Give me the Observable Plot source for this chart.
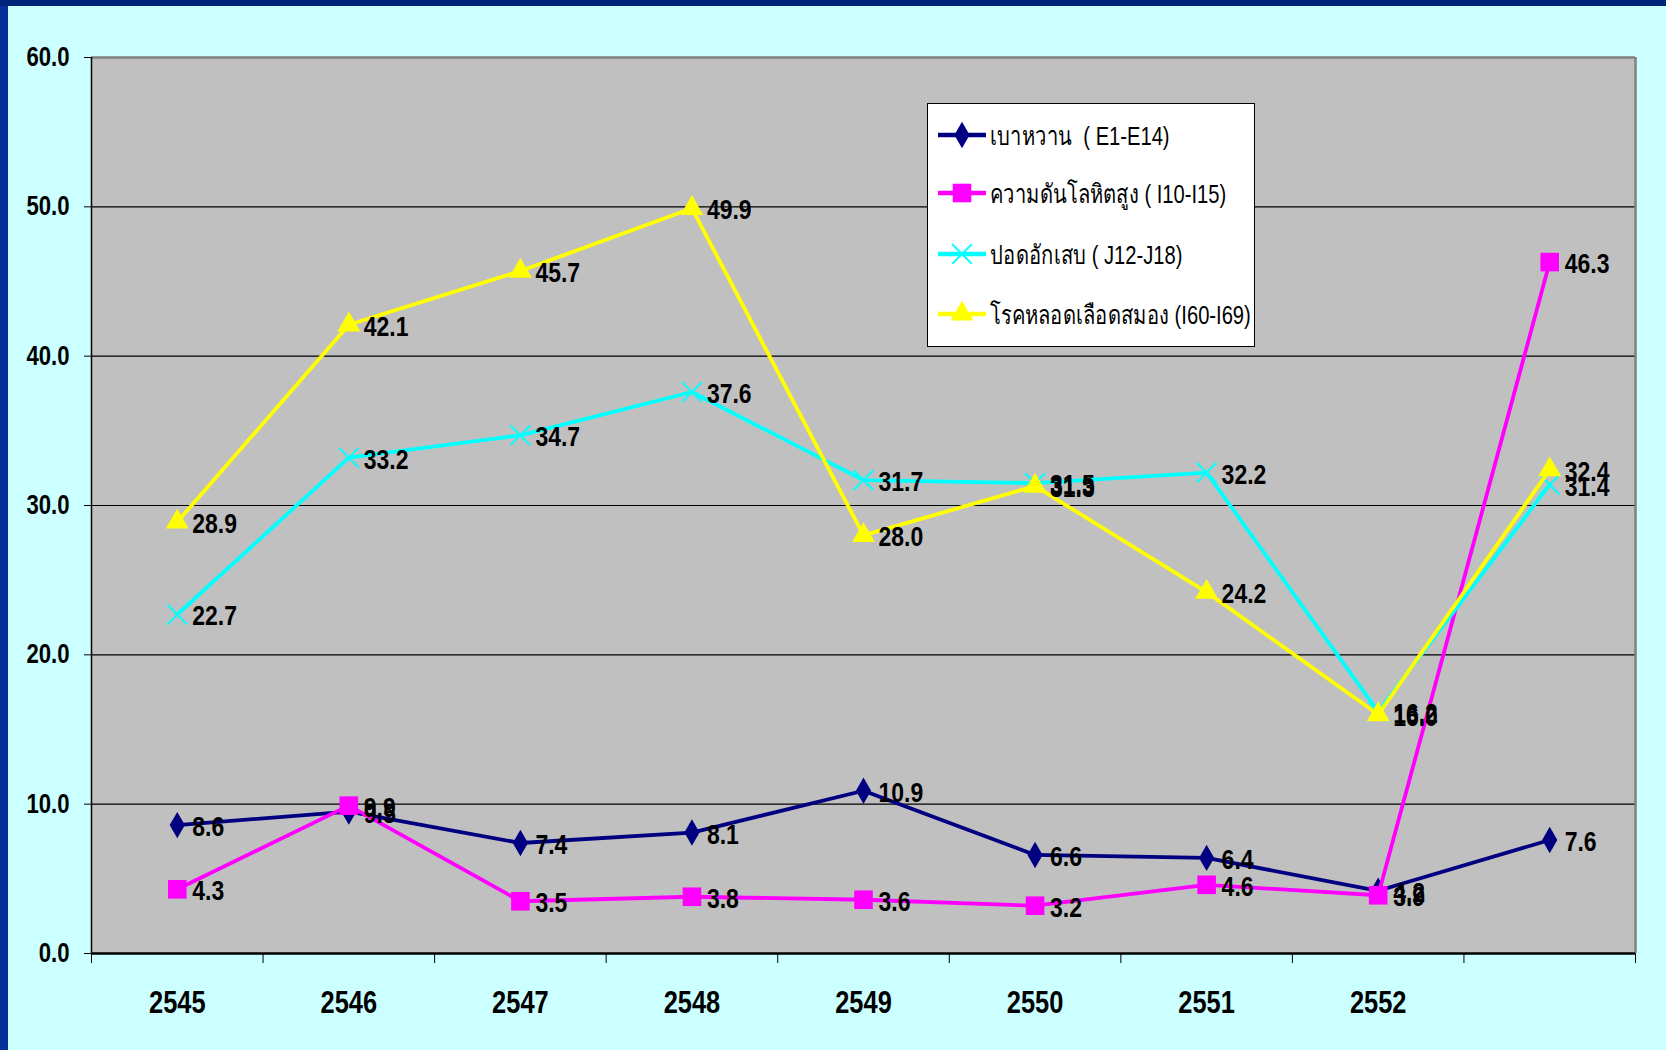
<!DOCTYPE html>
<html>
<head>
<meta charset="utf-8">
<script src="https://cdn.jsdelivr.net/npm/d3@7"></script>
<script src="https://cdn.jsdelivr.net/npm/@observablehq/plot@0.6"></script>
<style>
  html, body { margin: 0; padding: 0; background: #CCFFFF; width: 1666px; height: 1050px; overflow: hidden; }
  #chart { position: absolute; left: 0; top: 0; }
  .bar-left { position: absolute; left: 0; top: 0; width: 8px; height: 1050px; background: #06309A; z-index: 5; }
  .bar-top { position: absolute; left: 0; top: 0; width: 1666px; height: 6px; background: #00237A; z-index: 6; }
  #legend { position: absolute; left: 927px; top: 103px; width: 326px; height: 242px; background: #fff; border: 1px solid #000; z-index: 4;
    font-family: 'Liberation Sans', Arial, sans-serif; font-size: 26px; color: #000; }
  #legend .row { position: absolute; left: 9px; height: 30px; display: flex; align-items: center; }
  #legend .row span { margin-left: 3px; white-space: pre; display: inline-block; transform: scaleX(0.775); transform-origin: left center; }
</style>
</head>
<body>
<div class="bar-left"></div>
<div class="bar-top"></div>
<div id="chart"></div>
<div id="legend"></div>
<script>
const years = ["2545", "2546", "2547", "2548", "2549", "2550", "2551", "2552", ""];
const diabetes = [8.6, 9.5, 7.4, 8.1, 10.9, 6.6, 6.4, 4.2, 7.6];
const hypertension = [4.3, 9.9, 3.5, 3.8, 3.6, 3.2, 4.6, 3.9, 46.3];
const pneumonia = [22.7, 33.2, 34.7, 37.6, 31.7, 31.5, 32.2, 16.2, 31.4];
const strokeDisease = [28.9, 42.1, 45.7, 49.9, 28.0, 31.3, 24.2, 16.0, 32.4];
const seriesNames = ["เบาหวาน  ( E1-E14)", "ความดันโลหิตสูง ( I10-I15)", "ปอดอักเสบ ( J12-J18)", "โรคหลอดเลือดสมอง (I60-I69)"];
const seriesColors = ["#000080", "#FF00FF", "#00FFFF", "#FFFF00"];
const seriesSymbols = ["diamond", "square", "times", "triangle"];
const yTicks = [0, 10, 20, 30, 40, 50, 60];

const allValues = [diabetes, hypertension, pneumonia, strokeDisease];
const series = allValues.map((vals, s) => vals.map((v, i) => ({ s, name: seriesNames[s], i, pos: i + 0.5, year: years[i], value: v })));
const yearRows = years.map((y, i) => ({ year: y, pos: i + 0.5 }));
const bounds = d3.range(years.length + 1);

const symbolR = [8, 10.5, 9, 8.5];

const marks = [
  Plot.frame({ fill: "#C0C0C0" }),
  Plot.ruleY(yTicks.slice(1, -1), { stroke: "#000", strokeWidth: 1.2 }),
  Plot.ruleY([60], { stroke: "#808080", strokeWidth: 2.5 }),
  Plot.ruleX([years.length], { stroke: "#808080", strokeWidth: 2.5 }),
  Plot.ruleX([0], { stroke: "#000", strokeWidth: 1.5 }),
  Plot.ruleY([0], { stroke: "#000", strokeWidth: 2.5 })
];
series.forEach((rows, s) => {
  marks.push(Plot.line(rows, { x: "pos", y: "value", stroke: seriesColors[s], strokeWidth: 3.8 }));
  if (seriesSymbols[s] === "times") {
    marks.push(Plot.dot(rows, { x: "pos", y: "value", symbol: "times", r: symbolR[s], stroke: seriesColors[s], strokeWidth: 2 }));
  } else {
    marks.push(Plot.dot(rows, { x: "pos", y: "value", symbol: seriesSymbols[s], r: symbolR[s], fill: seriesColors[s], stroke: "none" }));
  }
});
series.forEach((rows) => {
  marks.push(Plot.text(rows, { x: "pos", y: "value", text: d => d.value.toFixed(1), dx: 15, dy: 2, textAnchor: "start", fontSize: 28, fontWeight: "bold", fill: "#000" }));
});
marks.push(Plot.text(yearRows, { x: "pos", y: () => 0, text: "year", dy: 50, fontSize: 31, fontWeight: "bold", fill: "#000" }));

const chart = Plot.plot({
  width: 1666,
  height: 1050,
  marginLeft: 91,
  marginRight: 31,
  marginTop: 57,
  marginBottom: 97,
  style: { background: "transparent", fontFamily: "'Liberation Sans', Arial, sans-serif", fontSize: "27px", fontWeight: "bold", color: "#000", overflow: "visible" },
  x: { domain: [0, years.length], ticks: bounds, tickFormat: () => "", tickSize: 10, label: null },
  y: { domain: [0, 60], ticks: yTicks, tickFormat: d => d.toFixed(1), tickSize: 7, tickPadding: 15, label: null },
  marks
});
document.getElementById("chart").appendChild(chart);

// Condense SVG texts horizontally to imitate the narrow face of the original
chart.querySelectorAll("text").forEach(t => {
  if (!t.textContent) return;
  const len = t.getComputedTextLength();
  if (len > 0) {
    t.setAttribute("textLength", (len * 0.82).toFixed(2));
    t.setAttribute("lengthAdjust", "spacingAndGlyphs");
  }
});

// Legend
const legend = document.getElementById("legend");
const rowTops = [16, 74, 135, 195];
seriesNames.forEach((name, s) => {
  const row = document.createElement("div");
  row.className = "row";
  row.style.top = rowTops[s] + "px";
  const sw = d3.create("svg").attr("width", 50).attr("height", 30);
  sw.append("line").attr("x1", 1).attr("x2", 49).attr("y1", 15).attr("y2", 15).attr("stroke", seriesColors[s]).attr("stroke-width", 4.5);
  const sym = { diamond: d3.symbolDiamond, square: d3.symbolSquare, times: d3.symbolTimes, triangle: d3.symbolTriangle }[seriesSymbols[s]];
  const path = sw.append("path").attr("transform", "translate(25,15)").attr("d", d3.symbol(sym, Math.PI * symbolR[s] * symbolR[s])());
  if (seriesSymbols[s] === "times") path.attr("fill", "none").attr("stroke", seriesColors[s]).attr("stroke-width", 2);
  else path.attr("fill", seriesColors[s]);
  row.appendChild(sw.node());
  const label = document.createElement("span");
  label.textContent = name;
  row.appendChild(label);
  legend.appendChild(row);
});
</script>
</body>
</html>
